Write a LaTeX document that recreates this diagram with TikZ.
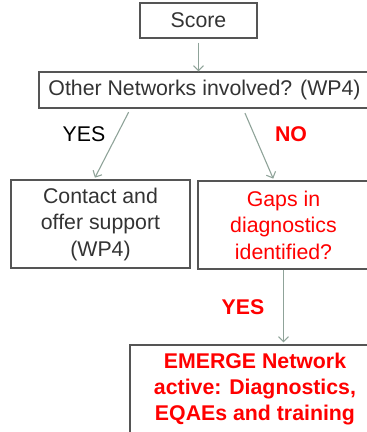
\documentclass[tikz,border=0pt]{standalone}
\usepackage{fontspec}
\setmainfont{Liberation Sans}
\usetikzlibrary{arrows.meta,positioning}
\definecolor{flowgreen}{RGB}{143,163,153}
\definecolor{boxgray}{RGB}{85,85,85}
\definecolor{textgray}{RGB}{51,51,51}
\definecolor{alertred}{RGB}{255,0,0}
\tikzset{
    box/.style={draw=boxgray, line width=1.1pt, text=textgray, align=center,
        inner sep=0pt, font=\fontsize{21.3}{26.5}\selectfont}, % every rectangle
    flow/.style={-{Straight Barb[length=5pt,width=10pt]}, draw=flowgreen,
        line width=1.1pt}, % arrows between the boxes
    answer/.style={font=\fontsize{21.3}{26}\selectfont}, % YES / NO labels
}

\begin{document}
\begin{tikzpicture}[x=1pt,y=-1pt]
  \clip (0,0) rectangle (367,432);

  \node[box, minimum width=117pt, minimum height=35pt] (score) at (198.5,20.5) {Score};
  \node[box, minimum width=331pt, minimum height=36pt] (net)   at (204.5,90)   {Other Networks involved? (WP4)};
  \node[box, minimum width=179pt, minimum height=88pt] (contact) at (100.5,224) {Contact and\\offer support\\(WP4)};
  \node[box, text=alertred, minimum width=171pt, minimum height=88pt] (gaps) at (283.5,225) {Gaps in\\diagnostics\\identified?};
  \node[box, text=alertred, font=\fontsize{21.3}{26}\selectfont\bfseries,
      minimum width=250pt, minimum height=88pt] (emerge) at (255,389)
      {EMERGE Network\\active: Diagnostics,\\EQAEs and training};

  \node[answer, text=black] (yes1) at (84,134) {YES};
  \node[answer, text=alertred, font=\fontsize{21.3}{26}\selectfont\bfseries] (no) at (291,134) {NO};
  \node[answer, text=alertred, font=\fontsize{21.3}{26}\selectfont\bfseries] (yes2) at (243,307) {YES};

  \draw[flow, shorten <=4pt] (score.south) -- (score.south |- net.north);
  \draw[flow, shorten <=4pt, shorten >=2pt] ([xshift=-74pt]net.south) -- ([xshift=-6.5pt]contact.north);
  \draw[flow, shorten <=5pt, shorten >=2pt] ([xshift=38.5pt]net.south) -- ([xshift=-9.5pt]gaps.north);
  \draw[flow, shorten >=2pt] (gaps.south) -- (gaps.south |- emerge.north);
\end{tikzpicture}
\end{document}
